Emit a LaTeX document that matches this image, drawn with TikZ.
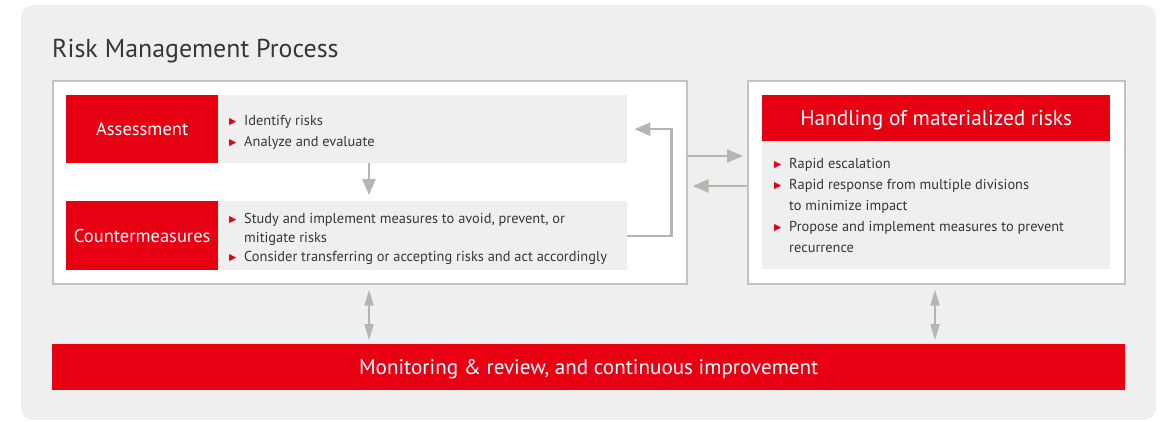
\documentclass[tikz,border=0pt]{standalone}
\usepackage{fontspec}
\setmainfont{PT Sans}
\newfontfamily\symfont{DejaVu Sans}
\usetikzlibrary{arrows.meta}

\definecolor{fjred}{HTML}{E60012}
\definecolor{panelgray}{HTML}{EEF0EF}
\definecolor{framegray}{HTML}{C2C3BF}
\definecolor{arrowgray}{HTML}{B4B6B0}
\definecolor{textgray}{HTML}{363636}

% red triangle bullet, 15pt wide including the gap to the text
\newcommand\redtri{\makebox[15pt][l]{\textcolor{fjred}{\symfont\fontsize{9.5}{9.5}\selectfont\raisebox{0.3pt}{▶}}}}

\tikzset{
  redbox/.style={fill=fjred, text=white, inner sep=0pt, anchor=north west, text depth=0pt},
  graybody/.style={fill=panelgray, inner sep=0pt, anchor=north west},
  frame/.style={draw=framegray, line width=1.6pt, fill=white, inner sep=0pt, anchor=north west},
  bullets/.style={anchor=base west, inner sep=0pt, text=textgray},
  arr/.style={draw=arrowgray, line width=2.4pt, -{Triangle[length=16pt,width=13pt]}},
  darr/.style={draw=arrowgray, line width=2pt, {Triangle[length=16pt,width=9pt]}-{Triangle[length=16pt,width=9pt]}}
}

\begin{document}
\begin{tikzpicture}[x=1pt, y=-1pt]
\useasboundingbox (0,0) rectangle (1167,421);
\fill[panelgray, rounded corners=12pt] (21,5) rectangle (1156,420);

\node[anchor=base west, inner sep=0pt, text=textgray, font=\fontsize{25.9}{30}\selectfont] (title) at (52,57) {Risk Management Process};

% left frame: assessment and countermeasures
\node[frame, minimum width=634pt, minimum height=203pt] (leftbox) at (52,80) {};
\node[redbox, text height=13pt, minimum width=152pt, minimum height=68pt, font=\fontsize{18.5}{22}\selectfont] (assess) at (66,95) {Assessment};
\node[graybody, minimum width=409pt, minimum height=68pt] (assessbody) at (218,95) {};
\node[bullets, font=\fontsize{14.4}{21}\selectfont] (assesstext) at (229,125)
  {\begin{tabular}[t]{@{}l@{}l@{}}
   \redtri & Identify risks\\
   \redtri & Analyze and evaluate
   \end{tabular}};

\node[redbox, text height=13pt, minimum width=152pt, minimum height=69pt, font=\fontsize{18.5}{22}\selectfont] (counter) at (66,201) {Countermeasures};
\node[graybody, minimum width=409pt, minimum height=69pt] (counterbody) at (218,201) {};
\node[bullets, font=\fontsize{14.4}{19}\selectfont] (countertext) at (229,223)
  {\begin{tabular}[t]{@{}l@{}l@{}}
   \redtri & Study and implement measures to avoid, prevent, or\\
           & mitigate risks\\
   \redtri & Consider transferring or accepting risks and act accordingly
   \end{tabular}};

% right frame: handling of materialized risks
\node[frame, minimum width=377pt, minimum height=203pt] (rightbox) at (747,80) {};
\node[redbox, text height=15pt, minimum width=348pt, minimum height=46pt, font=\fontsize{21.3}{25}\selectfont] (handle) at (762,95) {Handling of materialized risks};
\node[graybody, minimum width=348pt, minimum height=128pt] (handlebody) at (762,141) {};
\node[bullets, font=\fontsize{14.4}{21}\selectfont] (handletext) at (774,168)
  {\begin{tabular}[t]{@{}l@{}l@{}}
   \redtri & Rapid escalation\\
   \redtri & Rapid response from multiple divisions\\
           & to minimize impact\\
   \redtri & Propose and implement measures to prevent\\
           & recurrence
   \end{tabular}};

% bottom bar
\node[redbox, text height=15pt, minimum width=1073pt, minimum height=46pt, font=\fontsize{21.1}{25}\selectfont] (monitor) at (52,344) {Monitoring \& review, and continuous improvement};

% connectors
\coordinate (downx) at (369,0);
\coordinate (rightx) at (935,0);
\coordinate (ya) at (0,156);
\coordinate (yb) at (0,186);

\draw[arr, shorten >=6pt] (assessbody.south -| downx) -- (counterbody.north -| downx);
\draw[arr] (counterbody.east) -- ++(44,0) |- ([xshift=7pt]assessbody.east);
\draw[arr, shorten >=4pt] (leftbox.east |- ya) -- (rightbox.west |- ya);
\draw[arr, shorten >=5pt] (rightbox.west |- yb) -- (leftbox.east |- yb);
\draw[darr, shorten <=5pt, shorten >=4pt] (leftbox.south -| downx) -- (monitor.north -| downx);
\draw[darr, shorten <=5pt, shorten >=4pt] (rightbox.south -| rightx) -- (monitor.north -| rightx);
\end{tikzpicture}
\end{document}
